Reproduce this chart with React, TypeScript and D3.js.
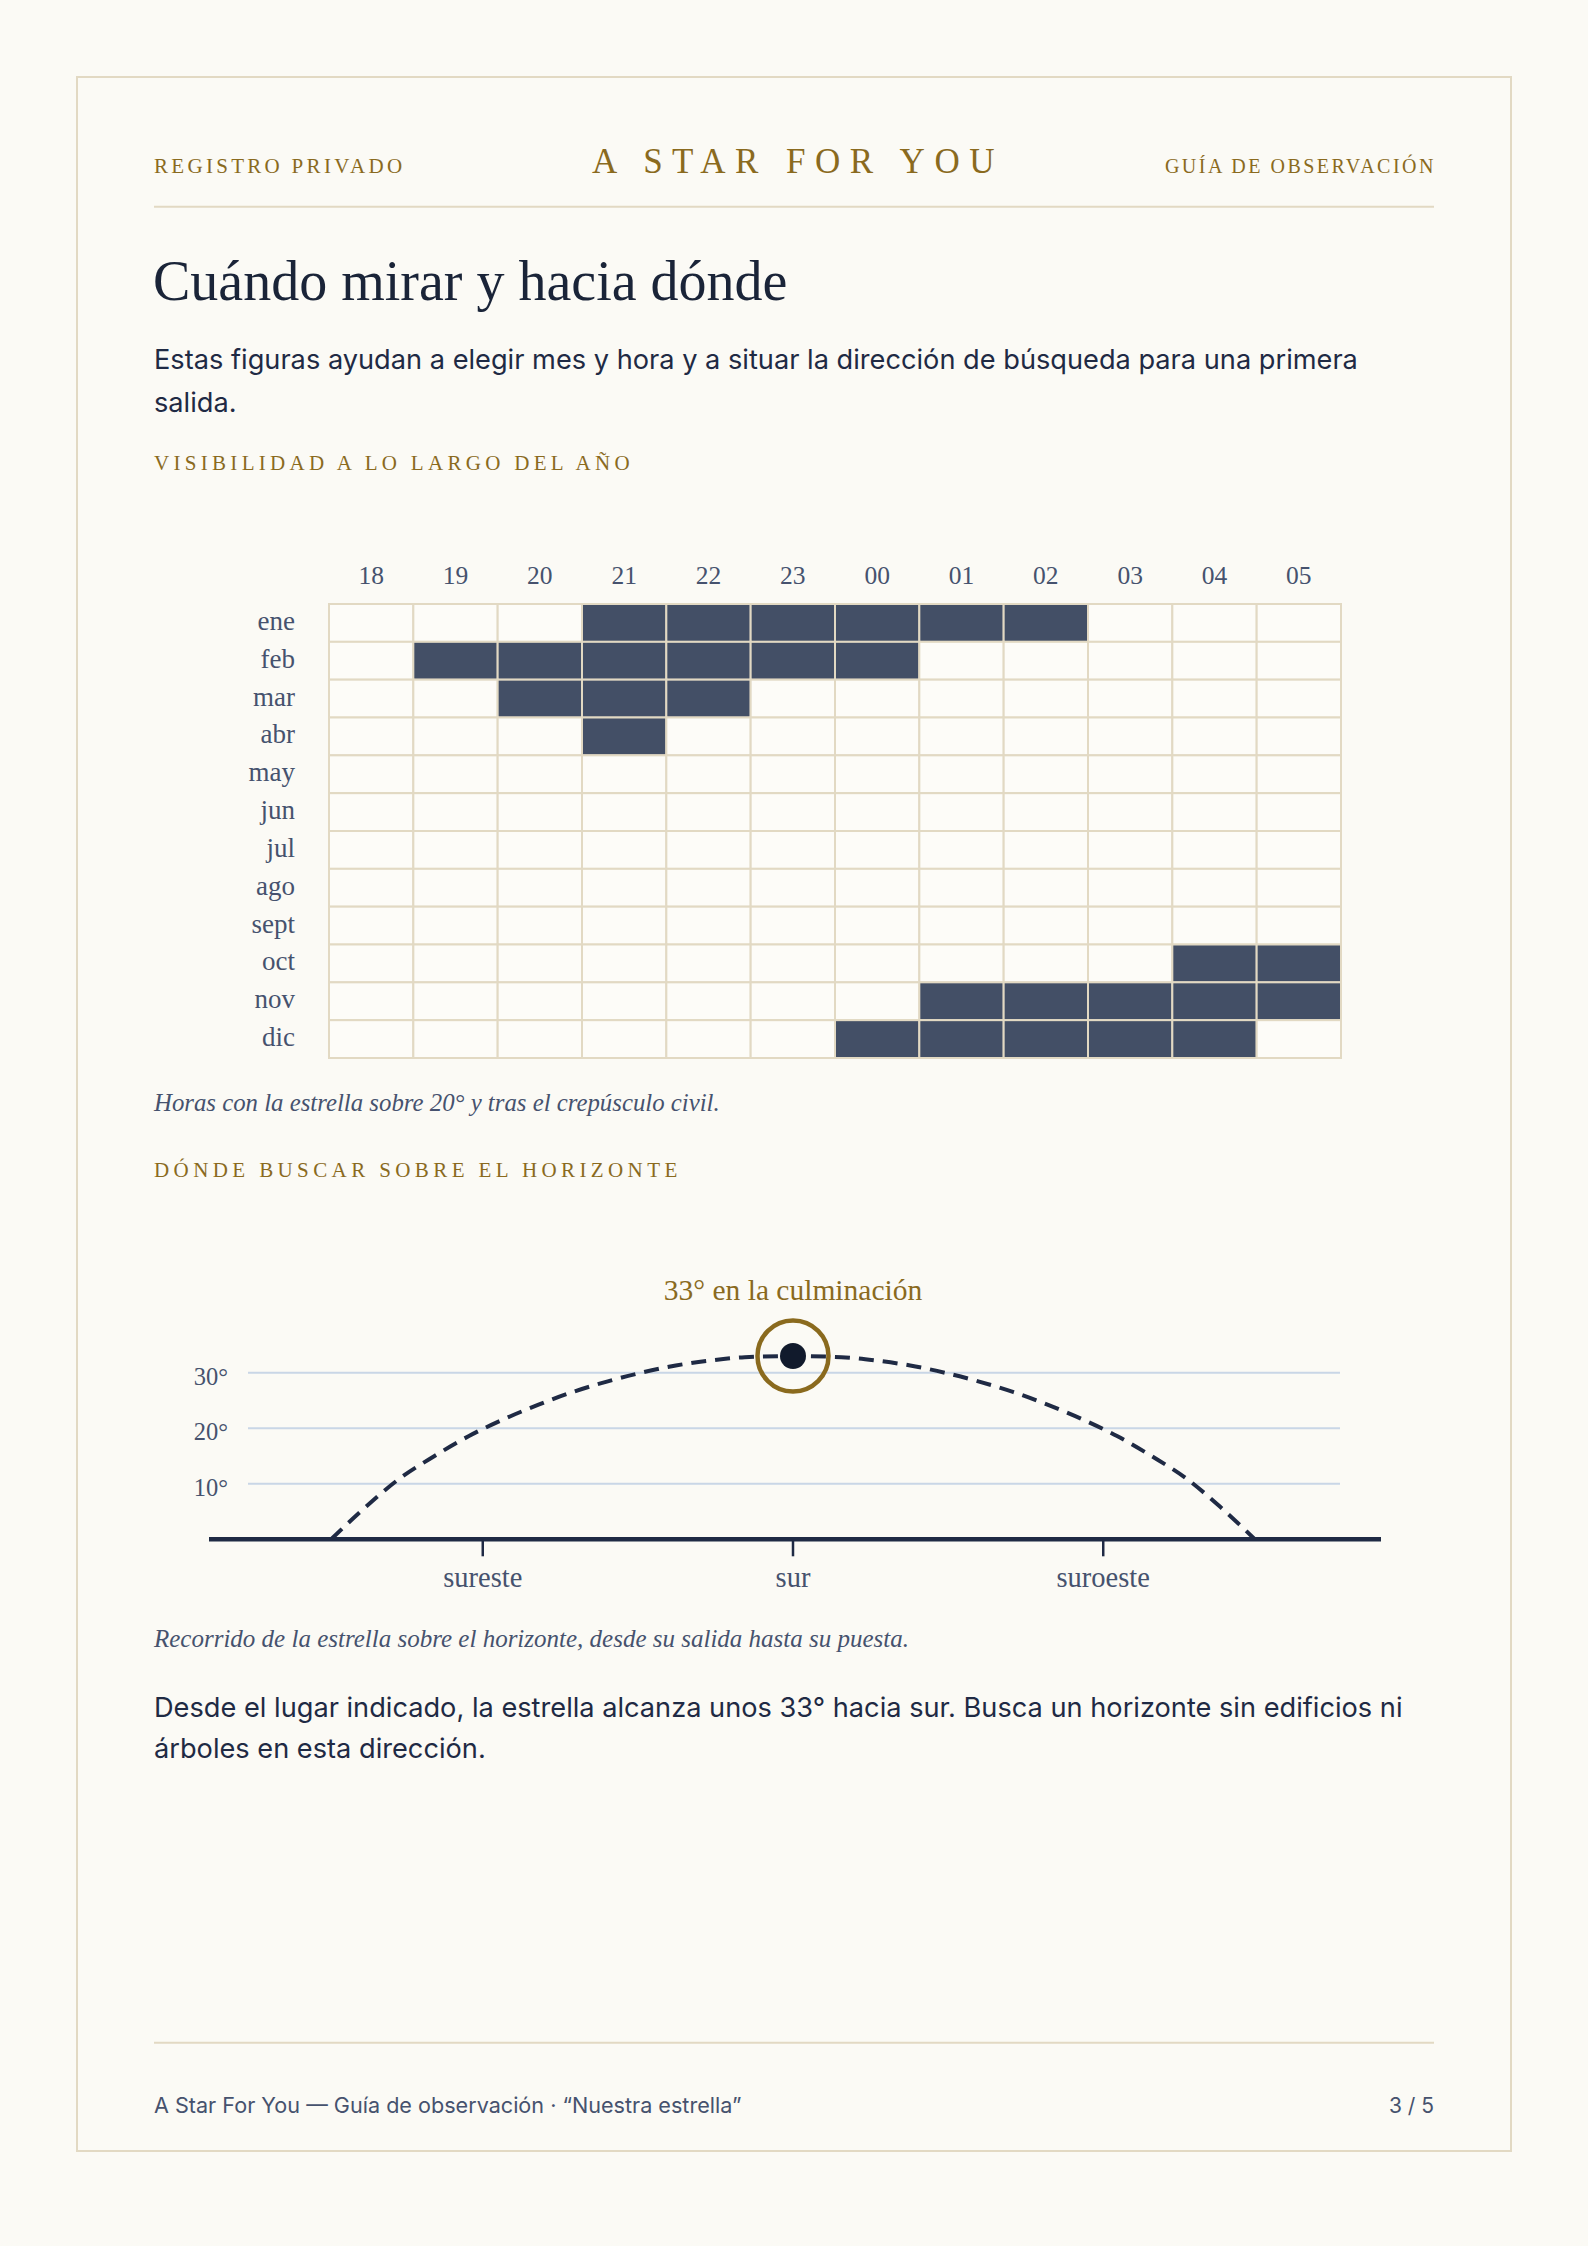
import React from "react";
import * as d3 from "d3";

// ---------- data ----------
const months = ["ene", "feb", "mar", "abr", "may", "jun", "jul", "ago", "sept", "oct", "nov", "dic"];
const hours = ["18", "19", "20", "21", "22", "23", "00", "01", "02", "03", "04", "05"];
// 1 = star above 20° after civil twilight
const visEne = [0, 0, 0, 1, 1, 1, 1, 1, 1, 0, 0, 0];
const visFeb = [0, 1, 1, 1, 1, 1, 1, 0, 0, 0, 0, 0];
const visMar = [0, 0, 1, 1, 1, 0, 0, 0, 0, 0, 0, 0];
const visAbr = [0, 0, 0, 1, 0, 0, 0, 0, 0, 0, 0, 0];
const visMay = [0, 0, 0, 0, 0, 0, 0, 0, 0, 0, 0, 0];
const visJun = [0, 0, 0, 0, 0, 0, 0, 0, 0, 0, 0, 0];
const visJul = [0, 0, 0, 0, 0, 0, 0, 0, 0, 0, 0, 0];
const visAgo = [0, 0, 0, 0, 0, 0, 0, 0, 0, 0, 0, 0];
const visSep = [0, 0, 0, 0, 0, 0, 0, 0, 0, 0, 0, 0];
const visOct = [0, 0, 0, 0, 0, 0, 0, 0, 0, 0, 1, 1];
const visNov = [0, 0, 0, 0, 0, 0, 0, 1, 1, 1, 1, 1];
const visDic = [0, 0, 0, 0, 0, 0, 1, 1, 1, 1, 1, 0];
const visibility = [visEne, visFeb, visMar, visAbr, visMay, visJun, visJul, visAgo, visSep, visOct, visNov, visDic];

// star path: azimuth (deg) vs altitude (deg)
const azimuth = [113, 118, 123, 128, 133, 138, 143, 148, 153, 158, 163, 168, 173, 180, 187, 192, 197, 202, 207, 212, 217, 222, 227, 232, 237, 242, 247];
const altitude = [0, 5.8, 11, 15, 18.6, 21.6, 24.2, 26.5, 28.4, 30, 31.3, 32.2, 32.8, 33, 32.8, 32.2, 31.3, 30, 28.4, 26.5, 24.2, 21.6, 18.6, 15, 11, 5.8, 0];
const altTicks = [10, 20, 30];
const dirAz = [135, 180, 225];
const dirLabels = ["sureste", "sur", "suroeste"];
const peakAz = 180;
const peakAlt = 33;

// ---------- styles ----------
const BG = "#fbfaf5";
const BEIGE = "#e2d9c3";
const GOLD = "#8a6a1e";
const NAVY = "#1a2438";
const INK = "#1f2a44";
const SLATE = "#46526e";
const CELL = "#434f66";
const GRID = "#c9d6e6";
const SERIF = "'Liberation Serif', 'Times New Roman', serif";
const SANS = "Inter, 'Noto Sans', sans-serif";

export default function App() {
  // heatmap scales
  const hx = d3.scaleBand<string>().domain(hours).range([329, 1341]).padding(0);
  const hy = d3.scaleBand<string>().domain(months).range([604, 1058]).padding(0);

  // horizon chart scales
  const ax = d3.scaleLinear().domain([95, 265]).range([207, 1379]);
  const ay = d3.scaleLinear().domain([0, 30]).range([1539.3, 1372.7]);
  const pts: [number, number][] = azimuth.map((a, i) => [a, altitude[i]]);
  const line = d3
    .line<[number, number]>()
    .x((d) => ax(d[0]))
    .y((d) => ay(d[1]))
    .curve(d3.curveMonotoneX);
  const [axL, axR] = ax.range();
  const gridL = axL + 41;
  const gridR = axR - 39;

  return (
    <svg
      width={1588}
      height={2246}
      style={{ position: "absolute", left: 0, top: 0, display: "block" }}
    >
      <rect x={0} y={0} width={1588} height={2246} fill={BG} />
      <rect x={77} y={77} width={1434} height={2074} fill={BG} stroke={BEIGE} strokeWidth={2} />

      {/* header */}
      <text x={154} y={172.7} fontFamily={SERIF} fontSize={21} letterSpacing={3.3} fill={GOLD}>
        REGISTRO PRIVADO
      </text>
      <text x={798} y={172.7} fontFamily={SERIF} fontSize={35} letterSpacing={9.5} fill={GOLD} textAnchor="middle">
        A STAR FOR YOU
      </text>
      <text x={1436} y={172.7} fontFamily={SERIF} fontSize={20} letterSpacing={2.5} fill={GOLD} textAnchor="end">
        GUÍA DE OBSERVACIÓN
      </text>
      <line x1={154} x2={1434} y1={206.7} y2={206.7} stroke={BEIGE} strokeWidth={2} />

      {/* title + intro */}
      <text x={153} y={300} fontFamily={SERIF} fontSize={56} fill={NAVY}>
        Cuándo mirar y hacia dónde
      </text>
      <text fontFamily={SANS} fontSize={27.2} fill={INK}>
        <tspan x={154} y={369.3}>
          Estas figuras ayudan a elegir mes y hora y a situar la dirección de búsqueda para una primera
        </tspan>
        <tspan x={154} y={411.7}>
          salida.
        </tspan>
      </text>

      <text x={154} y={470} fontFamily={SERIF} fontSize={21} letterSpacing={4.3} fill={GOLD}>
        VISIBILIDAD A LO LARGO DEL AÑO
      </text>

      {/* heatmap */}
      <g>
        {hours.map((h) => (
          <text
            key={"h" + h}
            x={(hx(h) as number) + hx.bandwidth() / 2}
            y={584}
            textAnchor="middle"
            fontFamily={SERIF}
            fontSize={25.5}
            fill={SLATE}
          >
            {h}
          </text>
        ))}
        {months.map((m) => (
          <text
            key={"m" + m}
            x={295}
            y={(hy(m) as number) + hy.bandwidth() / 2 + 7}
            textAnchor="end"
            fontFamily={SERIF}
            fontSize={27}
            fill={SLATE}
          >
            {m}
          </text>
        ))}
        {months.map((m, i) =>
          hours.map((h, j) => (
            <rect
              key={m + h}
              x={hx(h) as number}
              y={hy(m) as number}
              width={hx.bandwidth()}
              height={hy.bandwidth()}
              fill={visibility[i][j] ? CELL : "#fdfcf8"}
              stroke={BEIGE}
              strokeWidth={2}
            />
          ))
        )}
      </g>

      <text x={154} y={1110.7} fontFamily={SERIF} fontStyle="italic" fontSize={24.8} fill={SLATE}>
        Horas con la estrella sobre 20° y tras el crepúsculo civil.
      </text>

      <text x={154} y={1177.3} fontFamily={SERIF} fontSize={21} letterSpacing={4.4} fill={GOLD}>
        DÓNDE BUSCAR SOBRE EL HORIZONTE
      </text>

      {/* horizon chart */}
      <g>
        {altTicks.map((t) => (
          <g key={"a" + t}>
            <line x1={gridL} x2={gridR} y1={ay(t)} y2={ay(t)} stroke={GRID} strokeWidth={2} />
            <text x={228} y={ay(t) + 12} textAnchor="end" fontFamily={SERIF} fontSize={24.5} fill={SLATE}>
              {t}°
            </text>
          </g>
        ))}
        <path d={line(pts) || ""} fill="none" stroke={INK} strokeWidth={4} strokeDasharray="15 9" />
        <line x1={axL + 2} x2={axR + 2} y1={ay(0)} y2={ay(0)} stroke={INK} strokeWidth={4.5} />
        {dirAz.map((a, i) => (
          <g key={"d" + a}>
            <line x1={ax(a)} x2={ax(a)} y1={ay(0)} y2={ay(0) + 17} stroke={INK} strokeWidth={2.5} />
            <text x={ax(a)} y={1587} textAnchor="middle" fontFamily={SERIF} fontSize={28.5} fill={SLATE}>
              {dirLabels[i]}
            </text>
          </g>
        ))}
        <circle cx={ax(peakAz)} cy={ay(peakAlt)} r={35.5} fill="none" stroke={GOLD} strokeWidth={4.5} />
        <circle cx={ax(peakAz)} cy={ay(peakAlt)} r={13} fill="#111a2c" />
        <text x={ax(peakAz)} y={1300} textAnchor="middle" fontFamily={SERIF} fontSize={29.5} fill={GOLD}>
          {peakAlt}° en la culminación
        </text>
      </g>

      <text x={154} y={1646.7} fontFamily={SERIF} fontStyle="italic" fontSize={25} fill={SLATE}>
        Recorrido de la estrella sobre el horizonte, desde su salida hasta su puesta.
      </text>

      <text fontFamily={SANS} fontSize={27.2} fill={INK}>
        <tspan x={154} y={1716.7}>
          Desde el lugar indicado, la estrella alcanza unos 33° hacia sur. Busca un horizonte sin edificios ni
        </tspan>
        <tspan x={154} y={1758.3}>
          árboles en esta dirección.
        </tspan>
      </text>

      {/* footer */}
      <line x1={154} x2={1434} y1={2042.7} y2={2042.7} stroke={BEIGE} strokeWidth={2} />
      <text x={154} y={2113.3} fontFamily={SANS} fontSize={21.6} fill={SLATE}>
        A Star For You — Guía de observación · “Nuestra estrella”
      </text>
      <text x={1434} y={2113.3} fontFamily={SANS} fontSize={21} fill={SLATE} textAnchor="end">
        3 / 5
      </text>
    </svg>
  );
}
